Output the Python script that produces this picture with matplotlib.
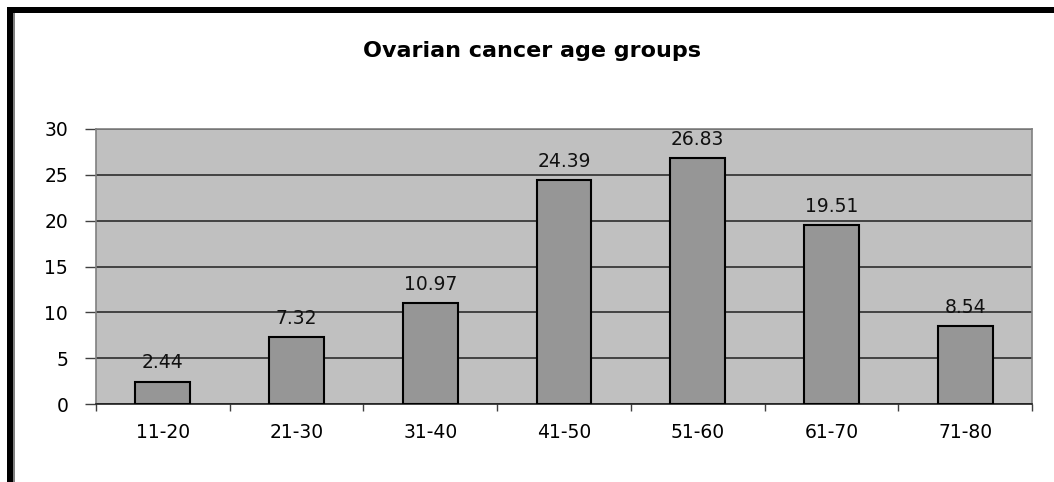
import numpy as np
import matplotlib.pyplot as plt
from matplotlib.patches import Rectangle

plt.rcParams['font.family'] = ['DejaVu Sans']

age_groups = ['11-20', '21-30', '31-40', '41-50', '51-60', '61-70', '71-80']
percent = [2.44, 7.32, 10.97, 24.39, 26.83, 19.51, 8.54]

W, H = 1054, 482
fig = plt.figure(figsize=(W / 100, H / 100), dpi=100)
fig.patch.set_facecolor('white')

# thick black frame on left and top, like the screenshot
fig.patches.append(Rectangle((7 / W, 0), 6 / W, 1 - 7 / H, transform=fig.transFigure,
                             facecolor='black', edgecolor='none'))
fig.patches.append(Rectangle((7 / W, 1 - 13 / H), 1, 6 / H, transform=fig.transFigure,
                             facecolor='black', edgecolor='none'))
fig.patches.append(Rectangle((13 / W, 0), 1.5 / W, 1 - 13 / H, transform=fig.transFigure,
                             facecolor='#808080', edgecolor='none'))

ax = fig.add_axes([96 / W, 1 - 404 / H, (1032 - 96) / W, (404 - 129) / H])
ax.set_facecolor('#C0C0C0')

x = np.arange(len(age_groups))
bars = ax.bar(x, percent, width=0.41, color='#969696', edgecolor='black', linewidth=1.5, zorder=3)

ax.set_xlim(-0.5, len(age_groups) - 0.5)
ax.set_ylim(0, 30)
ax.set_yticks(np.arange(0, 31, 5))
ax.yaxis.grid(True, color='#202020', linewidth=1.1, zorder=1)
ax.set_axisbelow(True)

for rect, v in zip(bars, percent):
    ax.text(rect.get_x() + rect.get_width() / 2, v + 1.0, f'{v:.2f}',
            ha='center', va='bottom', fontsize=13.5, color='#111111', zorder=4)

ax.set_xticks(x)
ax.set_xticklabels(age_groups, fontsize=13.5)
ax.set_xticks(np.arange(-0.5, len(age_groups)), minor=True)
ax.tick_params(axis='x', which='major', length=0, pad=14)
ax.tick_params(axis='x', which='minor', length=5, color='#404040', width=1)
ax.tick_params(axis='y', length=8, color='#404040', width=1, labelsize=13.5, pad=12)

for side in ['left', 'top', 'right']:
    ax.spines[side].set_color('#808080')
    ax.spines[side].set_linewidth(1.2)
ax.spines['bottom'].set_color('#202020')
ax.spines['bottom'].set_linewidth(1.2)

fig.text(532 / W, 1 - 51 / H, 'Ovarian cancer age groups', ha='center', va='center',
         fontsize=16, fontweight='bold')

plt.savefig('out.png', dpi=100)
